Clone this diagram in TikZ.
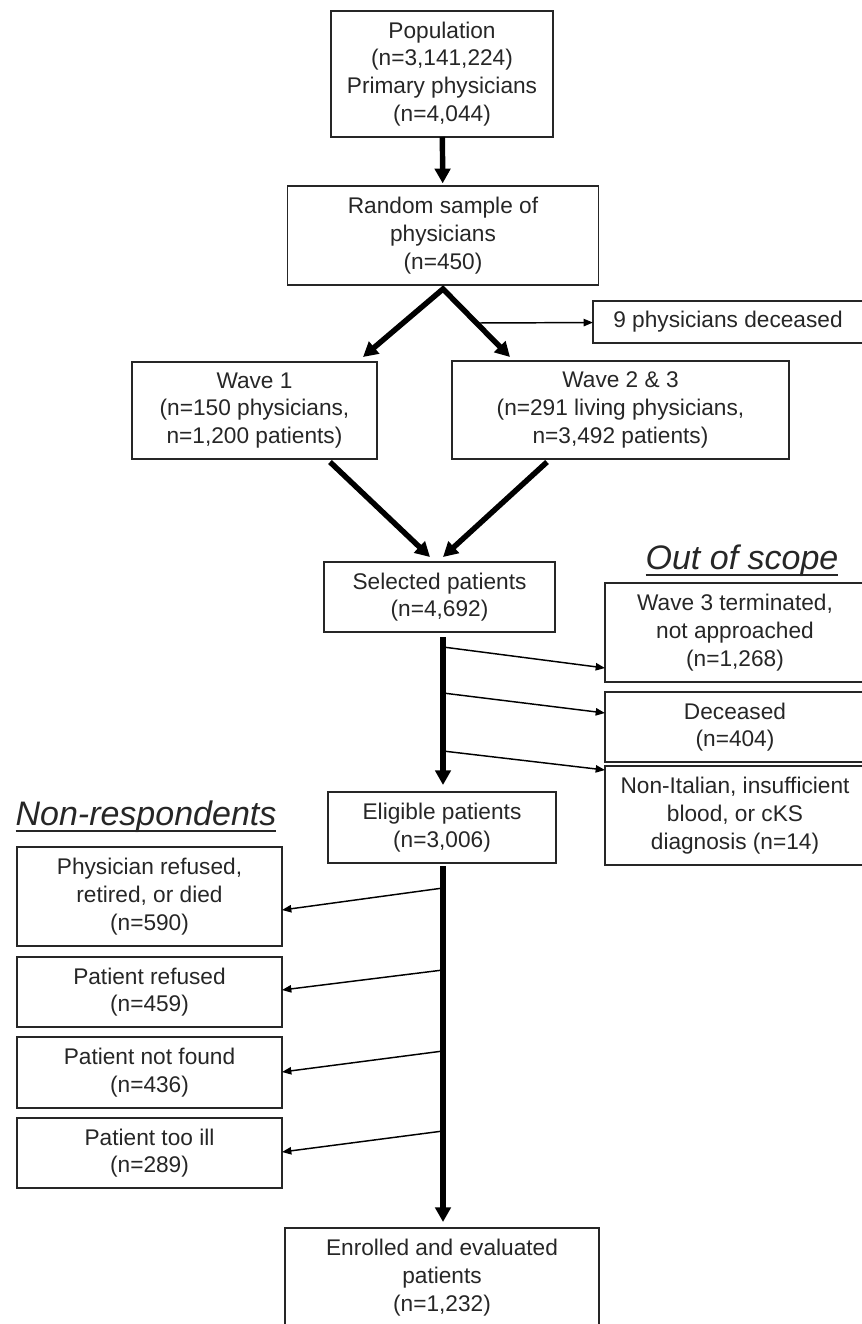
\documentclass[tikz,border=0pt]{standalone}
\usepackage{fontspec}
\setmainfont{Liberation Sans}
\usetikzlibrary{arrows.meta,calc}
\newcommand{\ulbar}[1]{\setbox0=\hbox{#1}\copy0\llap{\rule[-5.1pt]{\wd0}{1.2pt}}}

\begin{document}
\begin{tikzpicture}[
  x=0.75pt, y=-0.75pt,
  box/.style={draw=black!85,line width=1.2pt,align=center,inner sep=0pt,outer sep=0pt,
    text=black!85,font=\fontsize{17}{20.8}\selectfont},
  sz/.style 2 args={minimum width=#1*0.75pt,minimum height=#2*0.75pt},
  heading/.style={inner sep=0pt,anchor=base,text=black!85,font=\fontsize{25.5}{28}\selectfont\itshape},
  fat/.style={line width=4.1pt},
  fatarrow/.style={fat,-{Triangle[length=11pt,width=11.5pt]}},
  thinarrow/.style={line width=1.1pt,-{Triangle[length=7pt,width=5.5pt]}}
]
  \useasboundingbox (0,0) rectangle (861,1324);

  \node[box,sz={222}{126}] (pop) at (442,74) {Population\\(n=3,141,224)\\Primary physicians\\(n=4,044)};
  \node[box,sz={311}{99}] (rand) at (443,235.5) {Random sample of\\physicians\\(n=450)};
  \node[box,sz={270}{42}] (dead9) at (728,322) {9 physicians deceased};
  \node[box,sz={245}{97}] (wave1) at (254.5,410.5) {Wave 1\\(n=150 physicians,\\n=1,200 patients)};
  \node[box,sz={337}{98}] (wave23) at (620.5,410) {Wave 2 \& 3\\(n=291 living physicians,\\n=3,492 patients)};
  \node[box,sz={231}{70}] (sel) at (439.5,597) {Selected patients\\(n=4,692)};

  \node[heading] (oos) at (742,569) {\ulbar{Out of scope}};
  \node[box,sz={260}{99}] (wave3) at (735,632.5) {Wave 3 terminated,\\not approached\\(n=1,268)};
  \node[box,sz={260}{70}] (deceased) at (735,727) {Deceased\\(n=404)};
  \node[box,sz={260}{99}] (nonit) at (735,815.5) {Non-Italian, insufficient\\blood, or cKS\\diagnosis (n=14)};

  \node[box,sz={228}{71}] (elig) at (442,827.5) {Eligible patients\\(n=3,006)};

  \node[heading] (nonresp) at (146,825) {\ulbar{Non-respondents}};
  \node[box,sz={265}{99}] (physref) at (149.5,896.5) {Physician refused,\\retired, or died\\(n=590)};
  \node[box,sz={265}{70}] (patref) at (149.5,992) {Patient refused\\(n=459)};
  \node[box,sz={265}{71}] (notfound) at (149.5,1072.5) {Patient not found\\(n=436)};
  \node[box,sz={265}{70}] (tooill) at (149.5,1153) {Patient too ill\\(n=289)};

  \node[box,sz={314}{99}] (enrol) at (442,1277.5) {Enrolled and evaluated\\patients\\(n=1,232)};

  \draw[fatarrow,shorten >=2pt] (pop) -- (rand);

  \coordinate (apex) at ($(rand.south)+(0,4)$);
  \coordinate (w1tip) at ($(wave1.north east)+(-14,-5)$);
  \coordinate (w23tip) at ($(wave23.north west)+(58,-4)$);
  \draw[fat,line join=miter,{Triangle[length=11pt,width=11.5pt]}-{Triangle[length=11pt,width=11.5pt]}]
    (w1tip) -- (apex) -- (w23tip);
  \draw[thinarrow] ($(apex)!0.5!(w23tip)$) -- (dead9);

  \draw[fatarrow] ($(wave1.south east)+(-47,3)$) -- ($(sel.north)+(-9.5,-5)$);
  \draw[fatarrow] ($(wave23.south west)+(95,3)$) -- ($(sel.north)+(3.5,-5)$);

  \foreach \dy/\tgt/\off in {15/wave3/35.5,61/deceased/-14,119/nonit/-45.5}
    \draw[thinarrow] ($(sel.south)+(3.5,\dy)$) -- ($(\tgt.west)+(0,\off)$);
  \draw[fatarrow] ($(sel.south)+(3.5,5)$) -- ($(elig.north)+(1,-7)$);

  \foreach \dy/\tgt/\off in {25/physref/13.5,107/patref/-2,188/notfound/-0.5,268/tooill/-1}
    \draw[thinarrow] ($(elig.south)+(1,\dy)$) -- ($(\tgt.east)+(0,\off)$);
  \draw[fatarrow] ($(elig.south)+(1,3)$) -- ($(enrol.north)+(1,-6)$);
\end{tikzpicture}
\end{document}
